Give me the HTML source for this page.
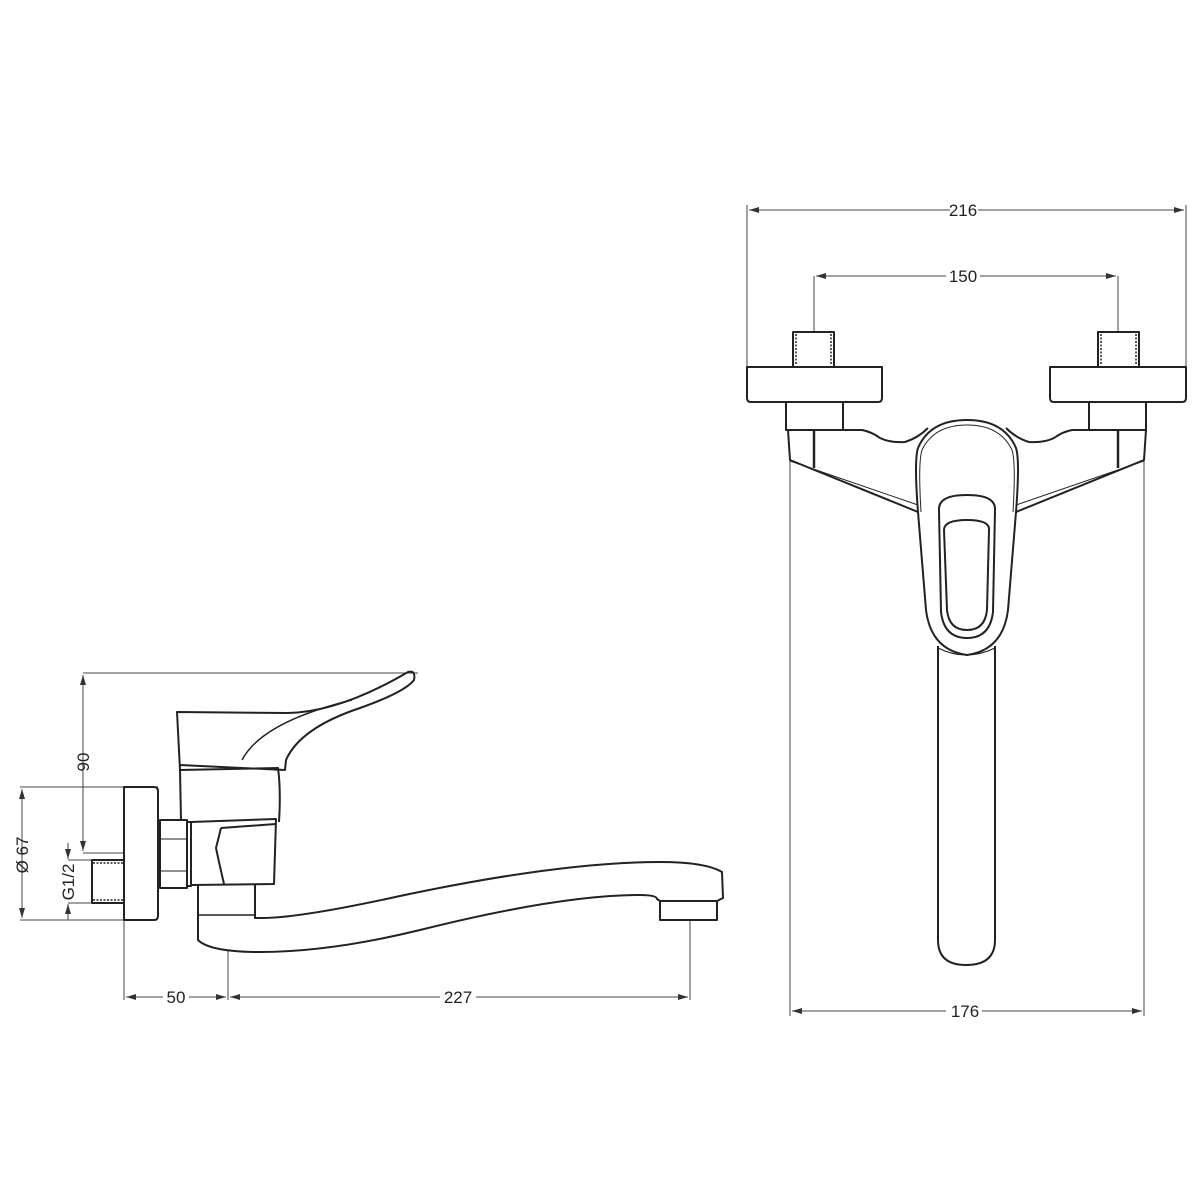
<!DOCTYPE html>
<html><head><meta charset="utf-8"><style>
html,body{margin:0;padding:0;background:#fff;}
svg{display:block;}
text{font-family:"Liberation Sans Narrow","Liberation Sans",sans-serif;font-size:17px;fill:#222;}
</style></head><body>
<svg width="1200" height="1200" viewBox="0 0 1200 1200" xmlns="http://www.w3.org/2000/svg">
<defs>
<marker id="a" viewBox="0 0 10 6" refX="10" refY="3" markerWidth="10" markerHeight="6" orient="auto-start-reverse" markerUnits="userSpaceOnUse"><path d="M0,0 L10,3 L0,6 z" fill="#333"/></marker>
</defs>
<g stroke="#444" stroke-width="1" fill="none">
<!-- left dims -->
<line x1="83" y1="673" x2="418" y2="673"/>
<line x1="83" y1="675" x2="83" y2="851" marker-start="url(#a)" marker-end="url(#a)"/>
<line x1="83" y1="853" x2="124" y2="853"/>
<line x1="20" y1="787" x2="158" y2="787"/>
<line x1="20" y1="920" x2="124" y2="920"/>
<line x1="22" y1="789" x2="22" y2="918" marker-start="url(#a)" marker-end="url(#a)"/>
<line x1="68" y1="843" x2="68" y2="859" marker-end="url(#a)"/>
<line x1="68" y1="920" x2="68" y2="904" marker-end="url(#a)"/>
<line x1="68" y1="860" x2="95" y2="860"/>
<line x1="68" y1="903" x2="95" y2="903"/>
<line x1="124" y1="920" x2="124" y2="1000"/>
<line x1="228" y1="950" x2="228" y2="1000"/>
<line x1="690" y1="920" x2="690" y2="1000"/>
<line x1="126" y1="997" x2="226" y2="997" marker-start="url(#a)" marker-end="url(#a)"/>
<line x1="230" y1="997" x2="688" y2="997" marker-start="url(#a)" marker-end="url(#a)"/>
<!-- right dims -->
<line x1="749" y1="210" x2="1184" y2="210" marker-start="url(#a)" marker-end="url(#a)"/>
<line x1="747" y1="205" x2="747" y2="368"/>
<line x1="1186" y1="205" x2="1186" y2="368"/>
<line x1="816" y1="276" x2="1116" y2="276" marker-start="url(#a)" marker-end="url(#a)"/>
<line x1="814" y1="276" x2="814" y2="332"/>
<line x1="1118" y1="276" x2="1118" y2="332"/>
<line x1="790" y1="460" x2="790" y2="1016"/>
<line x1="1144" y1="460" x2="1144" y2="1016"/>
<line x1="792" y1="1011" x2="1142" y2="1011" marker-start="url(#a)" marker-end="url(#a)"/>
</g>
<g fill="#fff">
<rect x="950" y="200" width="28" height="20"/><rect x="946" y="266" width="34" height="20"/>
<rect x="946" y="1001" width="36" height="20"/><rect x="163" y="987" width="26" height="20"/><rect x="440" y="987" width="36" height="20"/>
</g>
<text x="963" y="216" text-anchor="middle">216</text>
<text x="963" y="282" text-anchor="middle">150</text>
<text x="965" y="1017" text-anchor="middle">176</text>
<text x="176" y="1003" text-anchor="middle">50</text>
<text x="458" y="1003" text-anchor="middle">227</text>
<text transform="translate(89,762) rotate(-90)" text-anchor="middle" style="fill:#222">90</text>
<text transform="translate(28,855) rotate(-90)" text-anchor="middle">Ø 67</text>
<text transform="translate(74,882) rotate(-90)" text-anchor="middle">G1/2</text>
<rect x="80" y="745" width="10" height="2" fill="none"/>

<g stroke="#222" stroke-width="2" fill="none" stroke-linejoin="round">
<!-- LEFT VIEW -->
<path d="M124,787 H154 Q158,787 158,791 V916 Q158,920 154,920 H124 Z"/>
<rect x="92" y="860" width="32" height="43"/>
<path d="M93,863 H123 M93,900 H123" stroke-dasharray="2,1.5" stroke-width="1.5"/>
<rect x="160" y="820" width="27" height="68"/>
<line x1="160" y1="839" x2="187" y2="839" stroke-width="1"/>
<line x1="160" y1="871" x2="187" y2="871" stroke-width="1"/>
<rect x="187" y="822" width="4" height="64"/>
<path d="M181,820 L180,770 L278,768 Q281,790 279,822"/>
<path d="M191,822 L276,819 L274,884 L191,885"/>
<path d="M221,828 L216,848 L219,862 L224,884 M221,828 L276,824"/>
<path d="M198,885 V940 Q210,952 260,952 Q330,952 420,930 Q560,895 640,895 Q657,895 657,899 L660,901"/>
<path d="M255,884 V918 H262 Q300,918 400,896 Q560,862 660,862 Q705,862 722,872 L723,898 L717,901"/>
<rect x="660" y="901" width="57" height="19"/>
<path d="M198,915 H255" stroke-width="1.5"/>
<path d="M180,770 L177,712 L288,713 Q340,712 408,672 Q416,670 414,680 Q405,692 360,708 Q300,728 286,760 L285,770 L180,765"/>
<path d="M242,760 Q262,722 352,700" stroke-width="1.5"/>

<!-- RIGHT VIEW -->
<rect x="793" y="332" width="41" height="35"/>
<rect x="1098" y="332" width="41" height="35"/>
<path d="M796,334 V365 M831,334 V365 M1101,334 V365 M1136,334 V365" stroke-dasharray="2,1.5" stroke-width="1.5"/>
<path d="M747,367 H882 V398 Q882,402 878,402 H751 Q747,402 747,398 Z"/>
<path d="M1050,367 H1186 V398 Q1186,402 1182,402 H1054 Q1050,402 1050,398 Z"/>
<rect x="786" y="402" width="57" height="28"/>
<rect x="1089" y="402" width="57" height="28"/>
<path d="M788,430 L790,460 L918,512"/>
<path d="M1146,430 L1144,460 L1016,512"/>
<path d="M814,430 V468 M1118,430 V468" stroke-width="2.5"/>
<path d="M790,461 L918,505 M1144,461 L1016,505" stroke-width="1"/>
<path d="M843,430 H862 Q872,432 880,438 Q890,443 905,442 Q918,438 928,428"/>
<path d="M1089,430 H1072 Q1062,432 1054,438 Q1044,443 1029,442 Q1016,438 1006,428"/>
<path d="M918,512 Q914,460 918,448 Q930,420 967,420 Q1004,420 1016,448 Q1020,460 1016,512 L1008,610 Q1003,650 967,655 Q931,650 926,610 Z"/>
<path d="M921,512 Q918,462 922,450 Q934,425 967,425 Q1000,425 1012,450 Q1016,462 1013,512" stroke-width="1"/>
<path d="M939,510 Q938,495 967,495 Q996,495 995,510 L993,612 Q990,638 967,638 Q944,638 941,612 Z"/>
<path d="M944,530 Q944,520 967,520 Q990,520 989,530 L987,610 Q985,630 967,630 Q949,630 947,610 Z"/>
<path d="M938,646 V940 Q938,965 966,965 Q995,965 995,940 V646"/>
<path d="M938,648 Q966,662 995,648" stroke-width="1.2"/>
</g>
</svg>
</body></html>
